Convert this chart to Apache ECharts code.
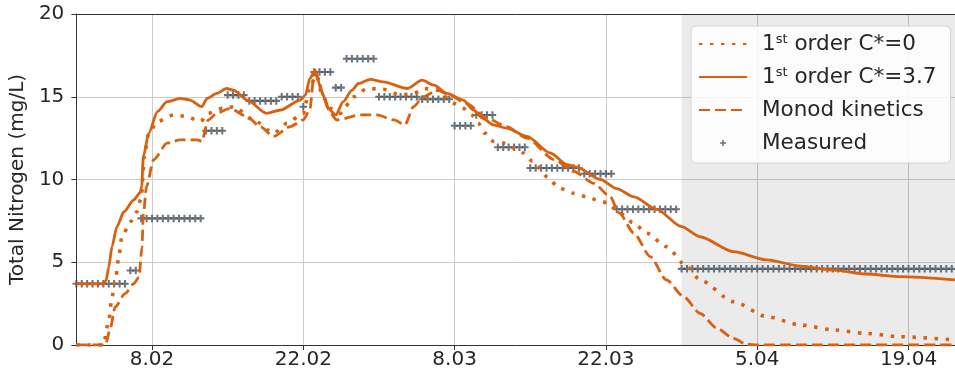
<!DOCTYPE html>
<html>
<head>
<meta charset="utf-8">
<script src="https://cdn.jsdelivr.net/npm/echarts@6/dist/echarts.min.js"></script>
<style>
  html, body { margin: 0; padding: 0; background: #ffffff; }
  #chart { width: 955px; height: 375px; }
</style>
</head>
<body>
<div id="chart"></div>
<script>
// Time is counted in days from 1 February.
const tickDays = [7, 21, 35, 49, 63, 77];
const tickLabels = ['8.02', '22.02', '8.03', '22.03', '5.04', '19.04'];
const xEnd = 81.3;
const shadeFrom = 56; // 29.03 onwards: validation period

// 1st order model, C* = 0
const c0Days = [0, 2.5, 3.0, 3.3, 3.6, 3.9, 4.2, 5.0, 5.6, 6.0, 6.3, 6.7, 7.5, 9.0, 10.2, 11.5, 12.2, 13.5, 14.55, 16.4, 18.25, 19.5, 21.0, 21.6, 22.2, 22.8, 23.5, 24.4, 25.7, 26.9, 28.4, 30.0, 31.2, 32.2, 33.4, 34.9, 35.8, 36.6, 37.2, 37.8, 38.6, 39.5, 40.5, 41.4, 42.2, 43.7, 44.6, 46.0, 47.2, 48.2, 49.1, 50.3, 51.5, 52.8, 54.6, 56.5, 57.7, 60.8, 63.9, 67.0, 70.1, 73.1, 76.2, 81.3];
const c0Values = [0, 0, 1.5, 2.9, 3.8, 5.2, 6.5, 7.45, 8.05, 8.9, 11.5, 12.8, 13.5, 13.9, 13.8, 13.5, 14.0, 14.3, 14.4, 13.6, 12.8, 13.4, 14.0, 15.6, 16.3, 15.0, 14.3, 14.0, 15.0, 15.5, 15.45, 15.1, 15.2, 15.5, 15.4, 14.6, 14.3, 13.9, 13.4, 12.8, 12.3, 12.2, 11.9, 11.6, 11.1, 10.1, 9.5, 9.17, 8.96, 8.76, 8.6, 7.96, 7.4, 6.75, 5.94, 4.73, 3.93, 2.62, 1.71, 1.21, 0.91, 0.7, 0.5, 0.3];

// 1st order model, C* = 3.7
const c37Days = [0, 2.5, 2.75, 3.0, 3.3, 3.75, 4.4, 5.3, 5.9, 6.05, 6.2, 6.7, 7.5, 8.4, 9.6, 10.5, 11.6, 12.1, 13.0, 13.9, 14.55, 15.8, 17.6, 18.9, 20.7, 21.2, 21.6, 22.1, 22.7, 23.3, 24.0, 24.7, 25.5, 26.1, 27.2, 28.4, 30.6, 32.0, 33.1, 34.3, 35.8, 36.75, 37.6, 38.6, 39.8, 41.7, 43.85, 45.4, 46.3, 48.5, 50.0, 51.6, 53.7, 56.0, 57.7, 60.8, 63.9, 67.0, 70.1, 73.1, 76.2, 81.3];
const c37Values = [3.7, 3.7, 3.9, 4.7, 5.95, 7.15, 8.05, 8.76, 9.2, 9.6, 11.4, 12.8, 14.1, 14.7, 14.9, 14.8, 14.4, 14.9, 15.2, 15.5, 15.4, 14.8, 14.0, 14.2, 14.8, 15.1, 16.1, 16.6, 15.3, 14.3, 13.9, 14.7, 15.4, 15.8, 16.05, 15.9, 15.5, 16.0, 15.7, 15.2, 14.8, 14.2, 13.7, 13.3, 13.1, 12.6, 11.6, 10.9, 10.75, 10.0, 9.45, 8.95, 8.2, 7.15, 6.54, 5.64, 5.14, 4.77, 4.53, 4.29, 4.13, 3.93];

// Monod kinetics model
const monodDays = [0, 2.7, 3.1, 3.6, 4.5, 5.3, 5.8, 6.07, 6.2, 6.5, 7.15, 8.4, 9.6, 11.2, 11.6, 12.2, 13.0, 14.2, 15.8, 17.0, 18.25, 19.8, 21.0, 21.6, 22.0, 22.3, 22.9, 23.5, 24.1, 26.3, 27.8, 29.4, 30.4, 31.2, 32.1, 33.4, 34.5, 36.1, 38.0, 39.8, 41.7, 44.2, 46.0, 47.9, 49.4, 50.2, 51.6, 53.1, 54.6, 56.2, 57.7, 59.3, 60.8, 62.0, 63.0, 81.3];
const monodValues = [0, 0, 0.9, 2.3, 3.1, 3.7, 4.1, 5.9, 7.9, 9.6, 11.2, 12.2, 12.4, 12.4, 12.3, 13.6, 14.0, 14.3, 13.8, 13.2, 12.6, 13.2, 13.6, 14.2, 16.4, 16.2, 15.0, 14.0, 13.6, 13.9, 13.9, 13.6, 13.3, 14.4, 15.0, 15.4, 15.1, 14.6, 13.7, 13.2, 12.5, 11.2, 10.5, 9.76, 8.96, 8.0, 6.75, 5.34, 3.93, 2.92, 1.91, 1.0, 0.4, 0.05, 0, 0];

// Measured total nitrogen: each lab value holds from start day to end day, logged every 12 h
const measuredStart = [0, 5, 6, 12, 14, 16, 19, 21, 22, 24, 25, 28, 32, 35, 37, 39, 42, 47, 50, 56];
const measuredEnd   = [4.5, 5.5, 11.5, 13.5, 15.5, 18.5, 20.5, 21, 23.5, 24.5, 27.5, 31.5, 34.5, 36.5, 38.5, 41.5, 46.5, 49.5, 55.5, 81];
const measuredValue = [3.7, 4.5, 7.65, 12.95, 15.1, 14.75, 15.0, 14.4, 16.5, 15.55, 17.3, 15.0, 14.85, 13.25, 13.9, 11.95, 10.7, 10.35, 8.2, 4.6];

const orange = '#d9600e';
const markerGray = '#46505b';
const plusPath = 'path://M-1.1,-4 h2.2 v2.9 h2.9 v2.2 h-2.9 v2.9 h-2.2 v-2.9 h-2.9 v-2.2 h2.9 z';
const plusLegendIcon = 'path://M0,0 M48,14 M23.2,4 h1.6 v2.2 h2.2 v1.6 h-2.2 v2.2 h-1.6 v-2.2 h-2.2 v-1.6 h2.2 z';

function pairs(xs, ys) {
  return xs.map((x, i) => [x, ys[i]]);
}

function measuredPoints() {
  const pts = [];
  measuredValue.forEach((v, r) => {
    for (let d = measuredStart[r]; d <= measuredEnd[r] + 1e-9; d += 0.5) pts.push([d, v]);
  });
  return pts;
}

const tickLabelOf = {};
tickDays.forEach((d, i) => { tickLabelOf[d] = tickLabels[i]; });

const font = 'DejaVu Sans';
const textColor = '#262626';
const spineColor = '#333333';
const gridColor = '#cccccc';
const hiddenSymbol = { opacity: 0 };

const chart = echarts.init(document.getElementById('chart'), null, { renderer: 'canvas' });

chart.setOption({
  animation: false,
  backgroundColor: '#ffffff',
  grid: { left: 76, right: 0, top: 14, bottom: 30, containLabel: false },
  xAxis: [
    {
      type: 'value',
      min: 0,
      max: xEnd,
      axisLine: { show: true, lineStyle: { color: spineColor, width: 1 } },
      axisTick: { show: true, length: 5, customValues: tickDays, lineStyle: { color: spineColor } },
      axisLabel: {
        customValues: tickDays,
        formatter: v => tickLabelOf[v] || '',
        fontFamily: font, fontSize: 20, color: textColor, margin: 5
      },
      splitLine: { show: true, lineStyle: { color: gridColor, width: 1 } }
    },
    {
      type: 'value',
      position: 'top',
      min: 0,
      max: xEnd,
      axisLine: { show: true, onZero: false, lineStyle: { color: spineColor, width: 1 } },
      axisTick: { show: false },
      axisLabel: { show: false },
      splitLine: { show: false }
    }
  ],
  yAxis: {
    type: 'value',
    min: 0,
    max: 20,
    interval: 5,
    name: 'Total Nitrogen (mg/L)',
    nameLocation: 'middle',
    nameGap: 45,
    nameTextStyle: { fontFamily: font, fontSize: 20, color: textColor },
    axisLine: { show: true, lineStyle: { color: spineColor, width: 1 } },
    axisTick: { show: true, length: 5, lineStyle: { color: spineColor } },
    axisLabel: { fontFamily: font, fontSize: 20, color: textColor, margin: 12 },
    splitLine: { show: true, lineStyle: { color: gridColor, width: 1 } }
  },
  legend: {
    orient: 'vertical',
    left: 691,
    top: 26,
    padding: [7, 14, 9, 7],
    itemWidth: 48,
    itemHeight: 14,
    itemGap: 11,
    backgroundColor: 'rgba(255,255,255,0.85)',
    borderColor: '#d4d4d4',
    borderWidth: 1,
    borderRadius: 5,
    formatter: name => name.replace(/^1st/, '1{sup|st}'),
    textStyle: {
      fontFamily: font,
      fontSize: 21.5,
      color: textColor,
      lineHeight: 22,
      padding: [0, 0, 0, 10],
      rich: {
        sup: { fontFamily: font, fontSize: 13, color: textColor, verticalAlign: 'top', lineHeight: 22, padding: [0, 0, 6, 0] }
      }
    },
    data: [
      { name: '1st order C*=0', itemStyle: hiddenSymbol },
      { name: '1st order C*=3.7', itemStyle: hiddenSymbol },
      { name: 'Monod kinetics', itemStyle: hiddenSymbol },
      { name: 'Measured', icon: plusLegendIcon }
    ]
  },
  series: [
    {
      name: 'Measured',
      type: 'scatter',
      data: measuredPoints(),
      symbol: plusPath,
      symbolSize: 7.5,
      itemStyle: { color: markerGray },
      z: 2,
      markArea: {
        silent: true,
        itemStyle: { color: 'rgba(0,0,0,0.08)' },
        data: [[{ xAxis: shadeFrom }, { xAxis: xEnd }]]
      }
    },
    {
      name: '1st order C*=0',
      type: 'line',
      data: pairs(c0Days, c0Values),
      symbol: 'none',
      smooth: 0.25,
      smoothMonotone: 'x',
      lineStyle: { color: orange, width: 3.6, type: [3.4, 7.6], cap: 'butt' },
      itemStyle: { color: orange },
      z: 3
    },
    {
      name: '1st order C*=3.7',
      type: 'line',
      data: pairs(c37Days, c37Values),
      symbol: 'none',
      smooth: 0.25,
      smoothMonotone: 'x',
      lineStyle: { color: orange, width: 2.8, type: 'solid' },
      itemStyle: { color: orange },
      z: 3
    },
    {
      name: 'Monod kinetics',
      type: 'line',
      data: pairs(monodDays, monodValues),
      symbol: 'none',
      smooth: 0.25,
      smoothMonotone: 'x',
      lineStyle: { color: orange, width: 2.8, type: [11, 5] },
      itemStyle: { color: orange },
      z: 3
    }
  ]
});
</script>
</body>
</html>
